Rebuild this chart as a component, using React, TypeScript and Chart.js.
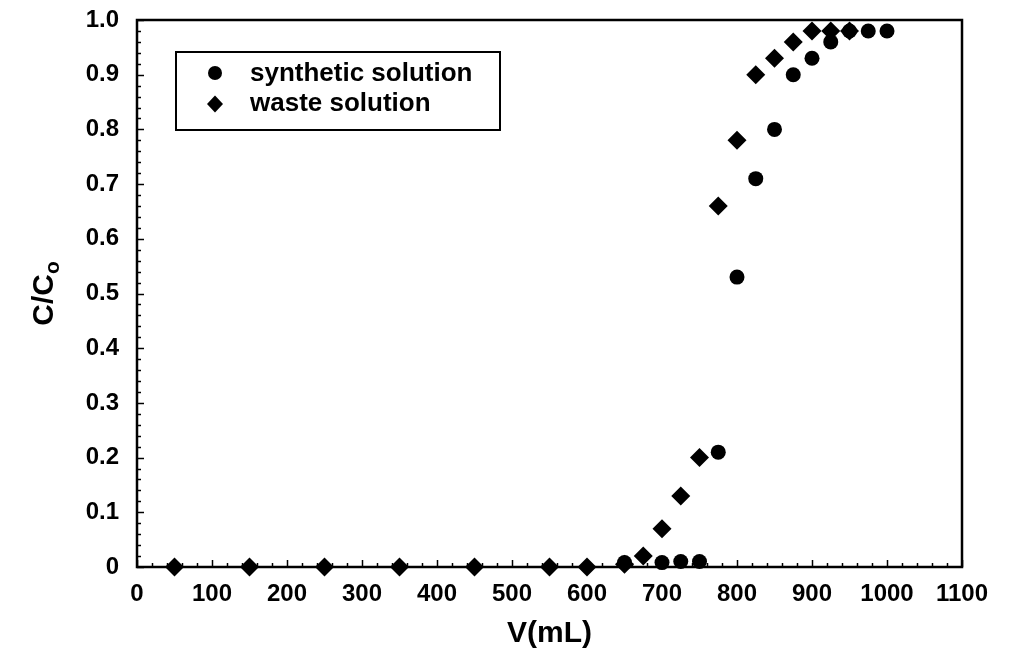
import { useEffect, useRef } from "react";
import { Chart, registerables } from "chart.js";

Chart.register(...registerables);

const FONT = "'Liberation Sans', Arial, Helvetica, sans-serif";

// Data
const synthVolume = [650, 700, 725, 750, 775, 800, 825, 850, 875, 900, 925, 950, 975, 1000];
const synthRatio = [0.008, 0.008, 0.01, 0.01, 0.21, 0.53, 0.71, 0.8, 0.9, 0.93, 0.96, 0.98, 0.98, 0.98];

const wasteVolume = [50, 150, 250, 350, 450, 550, 600, 650, 675, 700, 725, 750, 775, 800, 825, 850, 875, 900, 925, 950];
const wasteRatio = [0, 0, 0, 0, 0, 0, 0, 0.005, 0.02, 0.07, 0.13, 0.2, 0.66, 0.78, 0.9, 0.93, 0.96, 0.98, 0.98, 0.98];

const xTickValues = [0, 100, 200, 300, 400, 500, 600, 700, 800, 900, 1000, 1100];
const yTickValues = [0, 0.1, 0.2, 0.3, 0.4, 0.5, 0.6, 0.7, 0.8, 0.9, 1.0];

const seriesNames = ["synthetic solution", "waste solution"];

const framePlugin = {
  id: "framePlugin",
  beforeDatasetsDraw(chart: any) {
    const { ctx, chartArea } = chart;
    const xs = chart.scales.x;
    const ys = chart.scales.y;
    ctx.save();
    ctx.strokeStyle = "#000";
    ctx.lineWidth = 1.5;
    // y ticks (inward, left axis)
    for (let i = 0; i <= 50; i++) {
      const v = i * 0.02;
      const py = Math.round(ys.getPixelForValue(v)) + 0.5;
      const len = i % 5 === 0 ? 7 : 4;
      ctx.beginPath();
      ctx.moveTo(chartArea.left, py);
      ctx.lineTo(chartArea.left + len, py);
      ctx.stroke();
    }
    // x ticks (inward, bottom axis)
    for (let i = 0; i <= 55; i++) {
      const v = i * 20;
      const px = Math.round(xs.getPixelForValue(v)) + 0.5;
      const len = i % 5 === 0 ? 7 : 4;
      ctx.beginPath();
      ctx.moveTo(px, chartArea.bottom);
      ctx.lineTo(px, chartArea.bottom - len);
      ctx.stroke();
    }
    // frame
    ctx.lineWidth = 2.5;
    ctx.strokeRect(chartArea.left, chartArea.top, chartArea.right - chartArea.left, chartArea.bottom - chartArea.top);
    ctx.restore();
  },
  afterDraw(chart: any) {
    const { ctx, chartArea } = chart;
    ctx.save();
    // legend box
    ctx.strokeStyle = "#000";
    ctx.lineWidth = 2;
    ctx.fillStyle = "#fff";
    ctx.fillRect(176, 52, 324, 78);
    ctx.strokeRect(176, 52, 324, 78);
    ctx.fillStyle = "#000";
    // circle marker
    ctx.beginPath();
    ctx.arc(215, 73, 7, 0, Math.PI * 2);
    ctx.fill();
    // diamond marker
    ctx.beginPath();
    ctx.moveTo(215, 104 - 8.5);
    ctx.lineTo(215 + 8, 104);
    ctx.lineTo(215, 104 + 8.5);
    ctx.lineTo(215 - 8, 104);
    ctx.closePath();
    ctx.fill();
    ctx.font = `bold 26px ${FONT}`;
    ctx.textAlign = "left";
    ctx.textBaseline = "middle";
    ctx.fillText(seriesNames[0], 250, 74);
    ctx.fillText(seriesNames[1], 250, 104);

    // y axis title C/Co with subscript
    const cy = (chartArea.top + chartArea.bottom) / 2;
    ctx.translate(44, cy);
    ctx.rotate(-Math.PI / 2);
    const mainFont = `bold 30px ${FONT}`;
    const subFont = `bold 21px ${FONT}`;
    ctx.font = mainFont;
    const w1 = ctx.measureText("C/C").width;
    ctx.font = subFont;
    const w2 = ctx.measureText("o").width;
    const start = -(w1 + w2) / 2;
    ctx.textBaseline = "alphabetic";
    ctx.font = mainFont;
    ctx.fillText("C/C", start, 9);
    ctx.font = subFont;
    ctx.fillText("o", start + w1, 15);
    ctx.restore();
  },
};

export default function App() {
  const ref = useRef<HTMLCanvasElement>(null);
  useEffect(() => {
    document.body.style.margin = "0";
    const chart = new Chart(ref.current!, {
      type: "scatter",
      data: {
        datasets: [
          {
            label: seriesNames[0],
            data: synthVolume.map((x, i) => ({ x, y: synthRatio[i] })),
            pointStyle: "circle",
            pointRadius: 7.5,
            backgroundColor: "#000",
            borderColor: "#000",
            borderWidth: 0,
            clip: false,
          },
          {
            label: seriesNames[1],
            data: wasteVolume.map((x, i) => ({ x, y: wasteRatio[i] })),
            pointStyle: "rectRot",
            pointRadius: 9.5,
            backgroundColor: "#000",
            borderColor: "#000",
            borderWidth: 0,
            clip: false,
          },
        ],
      },
      options: {
        responsive: false,
        animation: false,
        devicePixelRatio: 1,
        layout: { padding: { top: 20, right: 50, left: 0, bottom: 0 } },
        plugins: {
          legend: { display: false },
          tooltip: { enabled: false },
        },
        scales: {
          x: {
            type: "linear",
            min: 0,
            max: 1100,
            afterBuildTicks: (scale: any) => {
              scale.ticks = xTickValues.map((v) => ({ value: v }));
            },
            ticks: {
              color: "#000",
              font: { family: FONT, size: 24, weight: "bold" },
              padding: 13,
              maxRotation: 0,
              autoSkip: false,
              callback: (v: any) => String(v),
            },
            grid: { display: false, drawTicks: false },
            border: { display: false },
            title: {
              display: true,
              text: "V(mL)",
              color: "#000",
              font: { family: FONT, size: 30, weight: "bold" },
              padding: { top: 0, bottom: 0 },
            },
            afterFit: (scale: any) => {
              scale.height = 85;
              scale.paddingLeft = 0;
              scale.paddingRight = 0;
            },
          },
          y: {
            type: "linear",
            min: 0,
            max: 1,
            afterBuildTicks: (scale: any) => {
              scale.ticks = yTickValues.map((v) => ({ value: v }));
            },
            ticks: {
              color: "#000",
              font: { family: FONT, size: 24, weight: "bold" },
              padding: 18,
              autoSkip: false,
              callback: (v: any) => (Number(v) === 0 ? "0" : Number(v).toFixed(1)),
            },
            grid: { display: false, drawTicks: false },
            border: { display: false },
            afterFit: (scale: any) => {
              scale.width = 137;
              scale.paddingTop = 0;
              scale.paddingBottom = 0;
            },
          },
        },
      },
      plugins: [framePlugin],
    } as any);
    return () => chart.destroy();
  }, []);
  return (
    <div style={{ position: "absolute", left: 0, top: 0, width: 1012, height: 652, background: "#fff" }}>
      <canvas ref={ref} width={1012} height={652} style={{ display: "block" }} />
    </div>
  );
}
